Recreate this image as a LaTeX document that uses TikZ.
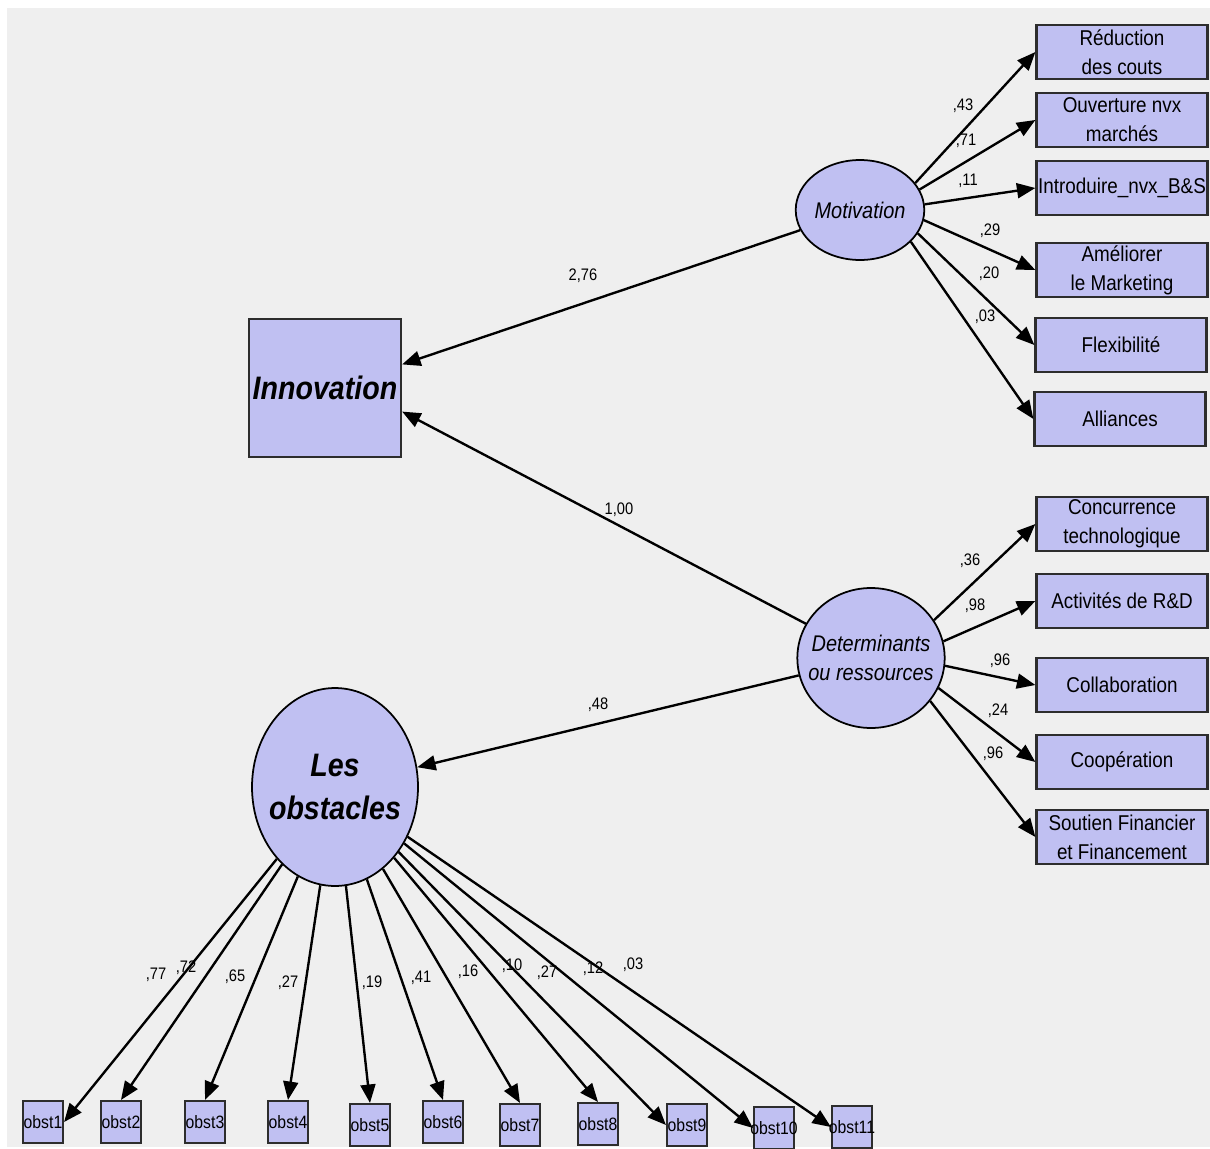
\documentclass[tikz,border=0pt]{standalone}
\usepackage{fontspec}
\setmainfont{Liberation Sans}[FakeStretch=0.88]
\usepackage{tikz}
\usetikzlibrary{arrows.meta,shapes.geometric}
\definecolor{LatentBlue}{RGB}{192,192,242}
\definecolor{CanvasGray}{RGB}{239,239,239}
\definecolor{EdgeGray}{RGB}{45,45,45}
\tikzset{
  indic/.style={
    draw=EdgeGray,
    line width=1.3pt,
    fill=LatentBlue,
    align=center,
    inner sep=0pt,
    minimum width=3.42cm,
    minimum height=1.08cm,
    font=\fontsize{12.2}{16.4}\selectfont
  },
  latentbox/.style={
    draw=EdgeGray,
    line width=1.3pt,
    fill=LatentBlue,
    inner sep=0pt,
    minimum width=3.04cm,
    minimum height=2.76cm,
    font=\fontsize{18.5}{22}\selectfont\bfseries\itshape
  },
  latent/.style={
    ellipse,
    draw=black,
    line width=1pt,
    fill=LatentBlue,
    align=center,
    inner ysep=0pt,
    font=\fontsize{12.9}{16.4}\selectfont\itshape
  },
  obsbox/.style={
    draw=EdgeGray,
    line width=1.2pt,
    fill=LatentBlue,
    inner sep=0pt,
    minimum width=0.8cm,
    minimum height=0.84cm,
    font=\fontsize{10.2}{12}\selectfont
  },
  coef/.style={
    inner sep=0pt,
    font=\fontsize{9.5}{10}\selectfont
  },
  arrow/.style={-{Triangle[length=10.5pt,width=8.5pt]},line width=1.35pt}
}

\begin{document}
\begin{tikzpicture}[x=0.02cm,y=-0.02cm]

\useasboundingbox (0,0) rectangle (1210,1149);
\fill[white] (0,0) rectangle (1210,1149);
\fill[CanvasGray] (7,8) rectangle (1210,1147);

\node[latentbox] (innov) at (325,388) {Innovation};
\node[latent,inner xsep=0pt,minimum width=2.52cm,minimum height=2.0cm] (mot) at (860,210) {Motivation};
\node[latent,inner xsep=-6pt,minimum width=2.78cm,minimum height=2.8cm] (det) at (871,658) {Determinants\\ou ressources};
\node[latent,inner xsep=-5pt,minimum width=3.32cm,minimum height=3.96cm,font=\fontsize{18.5}{25}\selectfont\bfseries\itshape] (obs) at (335,787) {Les\\obstacles};

\node[indic] (red) at (1122,52) {Réduction\\des couts};
\node[indic] (ouv) at (1122,120) {Ouverture nvx\\marchés};
\node[indic] (intro) at (1122,188) {Introduire\_nvx\_B\&S};
\node[indic] (amel) at (1122,270) {Améliorer\\le Marketing};
\node[indic] (flex) at (1121,345) {Flexibilité};
\node[indic] (alli) at (1120,419) {Alliances};

\node[indic] (conc) at (1122,524) {Concurrence\\technologique};
\node[indic] (rd) at (1122,601) {Activités de R\&D};
\node[indic] (colla) at (1122,685) {Collaboration};
\node[indic] (coop) at (1122,762) {Coopération};
\node[indic] (sout) at (1122,837) {Soutien Financier\\et Financement};

\node[obsbox] (o1) at (43,1122) {\makebox[0pt]{obst1}};
\node[obsbox] (o2) at (121,1122) {\makebox[0pt]{obst2}};
\node[obsbox] (o3) at (205,1122) {\makebox[0pt]{obst3}};
\node[obsbox] (o4) at (288,1122) {\makebox[0pt]{obst4}};
\node[obsbox] (o5) at (370,1125) {\makebox[0pt]{obst5}};
\node[obsbox] (o6) at (443,1122) {\makebox[0pt]{obst6}};
\node[obsbox] (o7) at (520,1125) {\makebox[0pt]{obst7}};
\node[obsbox] (o8) at (598,1124) {\makebox[0pt]{obst8}};
\node[obsbox] (o9) at (687,1125) {\makebox[0pt]{obst9}};
\node[obsbox] (o10) at (774,1128) {\makebox[0pt]{obst10}};
\node[obsbox] (o11) at (852,1127) {\makebox[0pt]{obst11}};

% structural paths
\draw[arrow] (mot) -- (innov.17);
\draw[arrow] (det) -- (innov.-17);
\draw[arrow] (det) -- (obs);

\node[coef] (c276) at (583,276) {2,76};
\node[coef] (c100) at (619,510) {1,00};
\node[coef] (c48) at (598,705) {,48};

% motivation
\draw[arrow] (mot.26) -- (red.west);
\draw[arrow] (mot.19) -- (ouv.west);
\draw[arrow] (mot.5) -- (intro.west);
\draw[arrow] (mot.-9) -- (amel.west);
\draw[arrow] (mot.-22) -- (flex.west);
\draw[arrow] (mot.-32) -- (alli.west);

\node[coef] (m1) at (963,106) {,43};
\node[coef] (m2) at (966,141) {,71};
\node[coef] (m3) at (968,181) {,11};
\node[coef] (m4) at (990,231) {,29};
\node[coef] (m5) at (989,274) {,20};
\node[coef] (m6) at (985,317) {,03};

% determinants
\draw[arrow] (det.31) -- (conc.west);
\draw[arrow] (det.13) -- (rd.west);
\draw[arrow] (det.-6) -- (colla.west);
\draw[arrow] (det.-24) -- (coop.west);
\draw[arrow] (det.-36) -- (sout.west);

\node[coef] (d1) at (970,561) {,36};
\node[coef] (d2) at (975,606) {,98};
\node[coef] (d3) at (1000,661) {,96};
\node[coef] (d4) at (998,711) {,24};
\node[coef] (d5) at (993,754) {,96};

% obstacles
\draw[arrow] (obs) -- (o1.east);
\draw[arrow] (obs) -- (o2.north);
\draw[arrow] (obs) -- (o3.north);
\draw[arrow] (obs) -- (o4.north);
\draw[arrow] (obs) -- (o5.north);
\draw[arrow] (obs) -- (o6.north);
\draw[arrow] (obs) -- (o7.north);
\draw[arrow] (obs) -- (o8.north);
\draw[arrow] (obs) -- (o9.west);
\draw[arrow] (obs) -- (o10.west);
\draw[arrow] (obs) -- (o11.west);

\node[coef] (b1) at (156,975) {,77};
\node[coef] (b2) at (186,968) {,72};
\node[coef] (b3) at (235,977) {,65};
\node[coef] (b4) at (288,983) {,27};
\node[coef] (b5) at (372,983) {,19};
\node[coef] (b6) at (421,978) {,41};
\node[coef] (b7) at (468,972) {,16};
\node[coef] (b8) at (512,966) {,10};
\node[coef] (b9) at (547,973) {,27};
\node[coef] (b10) at (593,969) {,12};
\node[coef] (b11) at (633,965) {,03};

\end{tikzpicture}
\end{document}
